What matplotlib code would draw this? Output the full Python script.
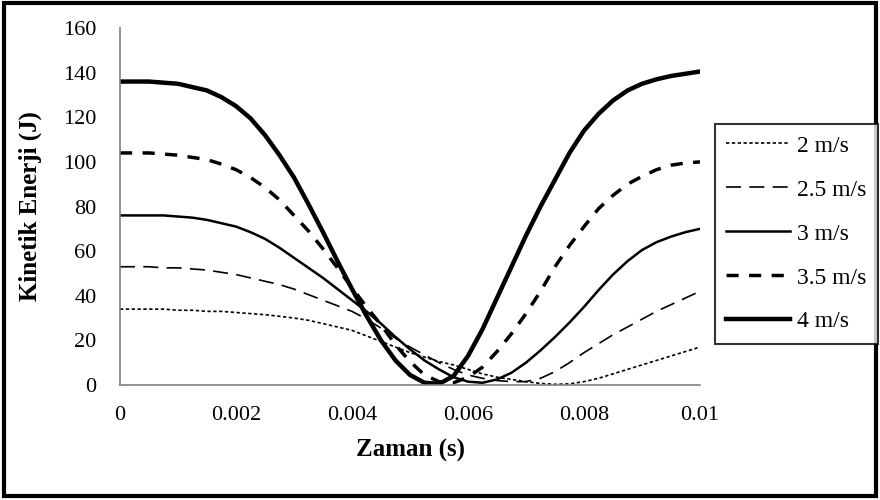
import matplotlib
matplotlib.use("Agg")
import matplotlib.pyplot as plt
from matplotlib.patches import Rectangle

# time axis (s), read every 0.25 ms
zaman = [0, 0.00025, 0.0005, 0.00075, 0.001, 0.00125, 0.0015, 0.00175, 0.002, 0.00225,
         0.0025, 0.00275, 0.003, 0.00325, 0.0035, 0.00375, 0.004, 0.00425, 0.0045, 0.00475,
         0.005, 0.00525, 0.0055, 0.00575, 0.006, 0.00625, 0.0065, 0.00675, 0.007, 0.00725,
         0.0075, 0.00775, 0.008, 0.00825, 0.0085, 0.00875, 0.009, 0.00925, 0.0095, 0.00975,
         0.01]

# kinetic energy (J) for each impact speed
ke_2 = [34, 34, 34, 34, 33.5, 33.5, 33, 33, 32.5, 32,
        31.5, 30.8, 30, 29, 27.5, 26, 24.5, 22, 19.5, 17,
        14.5, 12.5, 10.5, 9, 7, 5, 3.5, 2.5, 1.5, 0.7,
        0.3, 0.5, 1.5, 3, 5, 7, 9, 11, 13, 15,
        17]
ke_25 = [53, 53, 53, 52.5, 52.5, 52, 51.5, 50.5, 49.5, 48,
         46.5, 45, 43, 40.5, 38, 35.5, 33, 29.5, 25.5, 21,
         17, 13.5, 10, 7, 4.5, 3, 2, 1.5, 1.5, 3,
         6, 10, 14.5, 18.5, 22.5, 26, 29.5, 33, 36, 39,
         42]
ke_3 = [76, 76, 76, 76, 75.5, 75, 74, 72.5, 71, 68.5,
        65.5, 61.5, 57, 52.5, 48, 43, 38, 33, 27.5, 21.5,
        16, 11, 7, 3.5, 1.5, 1, 2.5, 5.5, 10, 15.5,
        21.5, 28, 35, 42.5, 49.5, 55.5, 60.5, 64, 66.5, 68.5,
        70]
ke_35 = [104, 104, 104, 103.5, 103, 102, 101, 99, 96.5, 93,
         88.5, 83, 76, 69, 61, 52.5, 43.5, 35, 27, 18,
         10.5, 4.5, 1.5, 1, 3.5, 8, 15, 23, 32, 42,
         53, 62.5, 71, 79, 85, 90, 93.5, 96.5, 98.5, 99.5,
         100]
ke_4 = [136, 136, 136, 135.5, 135, 133.5, 132, 129, 125, 119.5,
        112, 103, 93, 81, 68.5, 55.5, 43, 31, 20, 11,
        4.5, 1, 0.5, 4, 13, 25, 39, 53, 67, 80,
        92, 104, 114, 121.5, 127.5, 132, 135, 137, 138.5, 139.5,
        140.5]

labels = ["2 m/s", "2.5 m/s", "3 m/s", "3.5 m/s", "4 m/s"]
x_ticks = [0, 0.002, 0.004, 0.006, 0.008, 0.01]
x_tick_labels = ["0", "0.002", "0.004", "0.006", "0.008", "0.01"]
y_ticks = [0, 20, 40, 60, 80, 100, 120, 140, 160]


def main():
    plt.rcParams['font.family'] = ['Liberation Serif', 'DejaVu Serif']

    fig = plt.figure(figsize=(8.8, 5), dpi=100)
    ax = fig.add_axes([120 / 880, 1 - 385 / 500, 580 / 880, 357 / 500])

    # line styles roughly as in the original excel chart
    ax.plot(zaman, ke_2, color="black", lw=1.2, dashes=(2, 1.5), label=labels[0])
    ax.plot(zaman, ke_25, color="black", lw=1.2, dashes=(9, 5), label=labels[1])
    ax.plot(zaman, ke_3, color="black", lw=1.8, label=labels[2])
    ax.plot(zaman, ke_35, color="black", lw=2.5, dashes=(3.5, 3), label=labels[3])
    ax.plot(zaman, ke_4, color="black", lw=3.2, label=labels[4])

    ax.set_xlim(0, 0.01)
    ax.set_ylim(0, 160)
    ax.set_xticks(x_ticks)
    ax.set_xticklabels(x_tick_labels)
    ax.set_yticks(y_ticks)
    ax.tick_params(axis="both", length=0, labelsize=16)
    ax.tick_params(axis="x", pad=15)
    ax.tick_params(axis="y", pad=17)

    for side in ["top", "right"]:
        ax.spines[side].set_visible(False)
    for side in ["left", "bottom"]:
        ax.spines[side].set_color("#808080")
        ax.spines[side].set_linewidth(1.2)

    ax.set_xlabel("Zaman (s)", fontsize=18, fontweight="bold")
    ax.set_ylabel("Kinetik Enerji (J)", fontsize=18, fontweight="bold")
    ax.xaxis.set_label_coords(0.5, -0.15)
    ax.yaxis.set_label_coords(-0.135, 0.5)

    leg = fig.legend(loc="upper left",
                     bbox_to_anchor=(715 / 880, 1 - 124 / 500, 163 / 880, 0),
                     mode="expand", fontsize=17, frameon=True, fancybox=False,
                     handlelength=2.7, handletextpad=0.3, labelspacing=0.95,
                     borderpad=0.47, borderaxespad=0)
    leg.get_frame().set_edgecolor("black")
    leg.get_frame().set_linewidth(1.5)

    # black frame round the whole picture
    fig.patches.append(Rectangle((0.004, 0.008), 0.992, 0.986, transform=fig.transFigure,
                                 fill=False, edgecolor="black", lw=3))

    fig.savefig("out.png", dpi=100)


if __name__ == "__main__":
    main()
